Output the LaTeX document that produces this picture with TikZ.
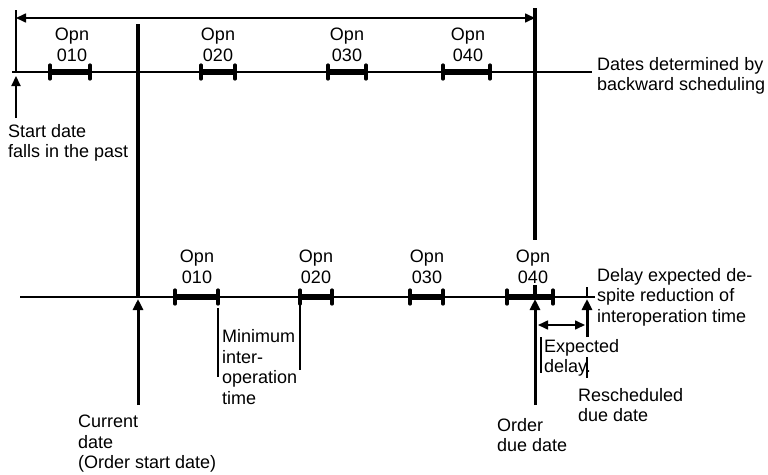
\documentclass[tikz,border=0pt]{standalone}
\usepackage{fontspec}
\setmainfont{Liberation Sans}
\usetikzlibrary{arrows.meta}
\newcommand\opbar[3]{%
  \draw[barline] (#1,#3) -- (#2,#3);
  \draw[endtick] (#1,#3-7) -- (#1,#3+7);
  \draw[endtick] (#2,#3-7) -- (#2,#3+7);}
\begin{document}
\begin{tikzpicture}[x=1pt,y=-1pt,
  txt/.style={font=\fontsize{18}{20.5}\selectfont, inner sep=0pt, align=left, anchor=west},
  opl/.style={font=\fontsize{18}{20.5}\selectfont, inner sep=0pt, align=center},
  axis/.style={line width=1.5pt},
  barline/.style={line width=5.5pt},
  endtick/.style={line width=3.2pt, line cap=round},
  thickv/.style={line width=3.2pt},
  thinv/.style={line width=1.2pt},
  uparrow/.style={-{Triangle[length=11pt,width=10pt]}, line width=3pt},
  dbl/.style={{Triangle[length=10pt,width=9pt]}-{Triangle[length=10pt,width=9pt]}, line width=1.6pt},
]
\useasboundingbox (0,0) rectangle (768,474);
% coordinates
\coordinate (L1a) at (12,72);   \coordinate (L1b) at (592,72);
\coordinate (L2a) at (20,297);  \coordinate (L2b) at (595,297);
\coordinate (TAl) at (16,18);   \coordinate (TAr) at (535,18);
\coordinate (TLt) at (16,10);   \coordinate (TLb) at (16,72);
\coordinate (SAb) at (16,118);  \coordinate (SAt) at (16,76);
\coordinate (RVt) at (535,8);   \coordinate (RVb) at (535,240);
\coordinate (CVt) at (138,24);  \coordinate (CVb) at (138,297);
\coordinate (CAb) at (138,405); \coordinate (CAt) at (138,299);
\coordinate (OTt) at (535,285); \coordinate (OTb) at (535,297);
\coordinate (OAb) at (535,405); \coordinate (OAt) at (535,299);
\coordinate (RTt) at (587,287); \coordinate (RTb) at (587,297);
\coordinate (RAb) at (587,337); \coordinate (RAt) at (587,299);
\coordinate (EDl) at (538,325); \coordinate (EDr) at (585,325);
\coordinate (EL1t) at (541,337); \coordinate (EL1b) at (541,373);
\coordinate (EL2t) at (587,357); \coordinate (EL2b) at (587,378);
\coordinate (MLt) at (218,308); \coordinate (MLb) at (218,377);
\coordinate (MRt) at (300,297); \coordinate (MRb) at (300,370);

% lines
\draw[axis] (L1a) -- (L1b);
\draw[axis] (L2a) -- (L2b);
\draw[dbl] (TAl) -- (TAr);
\draw[line width=2pt] (TLt) -- (TLb);
\draw[-{Triangle[length=10pt,width=9pt]}, line width=2.2pt] (SAb) -- (SAt);
\draw[thickv] (RVt) -- (RVb);
\draw[thickv] (CVt) -- (CVb);
\draw[uparrow] (CAb) -- (CAt);
\draw[thickv] (OTt) -- (OTb);
\draw[uparrow] (OAb) -- (OAt);
\draw[line width=2pt] (RTt) -- (RTb);
\draw[uparrow] (RAb) -- (RAt);
\draw[dbl] (EDl) -- (EDr);
\draw[thinv] (EL1t) -- (EL1b);
\draw[thinv] (EL2t) -- (EL2b);
\draw[thinv] (MLt) -- (MLb);
\draw[thinv] (MRt) -- (MRb);

% operation bars
\opbar{50}{90}{72}
\opbar{201}{235}{72}
\opbar{328}{366}{72}
\opbar{443}{490}{72}
\opbar{175}{218}{297}
\opbar{300}{332}{297}
\opbar{410}{443}{297}
\opbar{507}{553}{297}

% labels
\node[opl] (t010) at (72,45) {Opn\\010};
\node[opl] (t020) at (218,45) {Opn\\020};
\node[opl] (t030) at (347,45) {Opn\\030};
\node[opl] (t040) at (468,45) {Opn\\040};
\node[opl] (b010) at (197,267) {Opn\\010};
\node[opl] (b020) at (316,267) {Opn\\020};
\node[opl] (b030) at (427,267) {Opn\\030};
\node[opl] (b040) at (533,267) {Opn\\040};

\node[txt] (start) at (8,143) {Start date\\falls in the past};
\node[txt] (dates) at (597,76) {Dates determined by\\backward scheduling};
\node[txt] (delay) at (597,297) {Delay expected de-\\spite reduction of\\interoperation time};
\node[txt] (current) at (78,444) {Current\\date\\(Order start date)};
\node[txt] (orderdue) at (497,435) {Order\\due date};
\node[txt] (resched) at (578,405) {Rescheduled\\due date};
\node[txt] (expdelay) at (544,358) {Expected\\delay.};
\node[txt] (minimum) at (222,367) {Minimum\\inter-\\operation\\time};
\end{tikzpicture}
\end{document}
